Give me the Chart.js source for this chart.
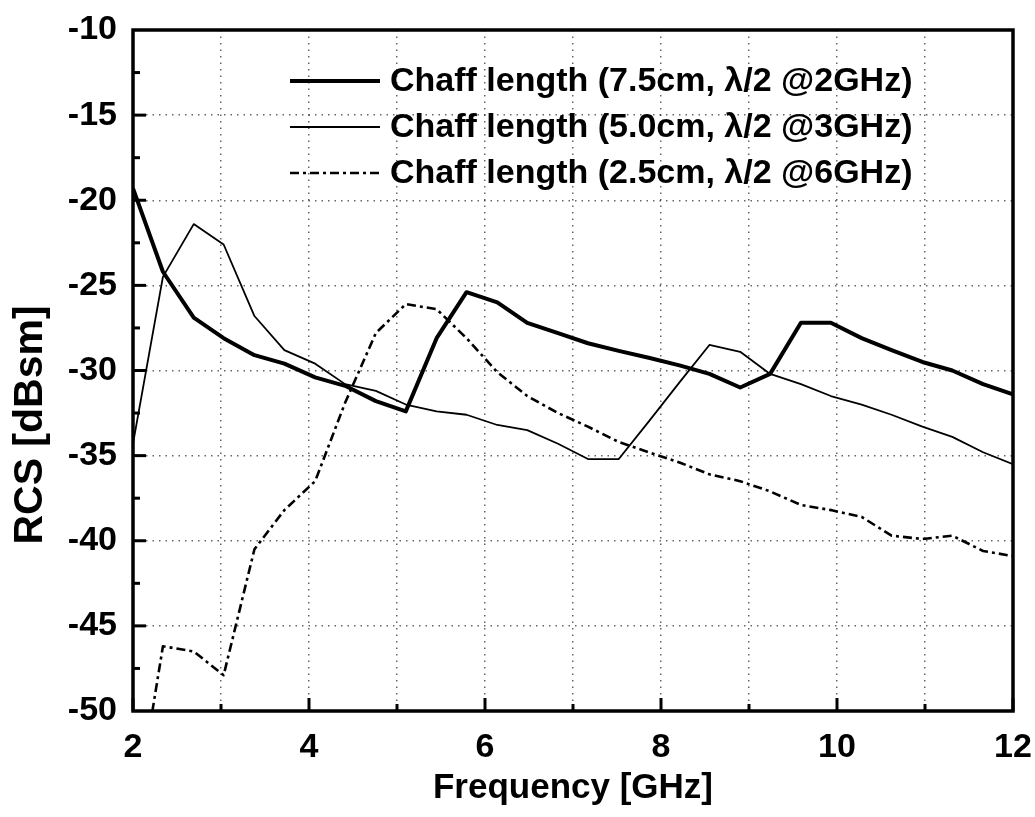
<!DOCTYPE html>
<html>
<head>
<meta charset="utf-8">
<script src="https://cdn.jsdelivr.net/npm/chart.js@4.4.1/dist/chart.umd.min.js"></script>
<style>
  body { margin: 0; background: #fff; }
  canvas { display: block; }
</style>
</head>
<body>
<canvas id="rcs-chart" width="1035" height="817"></canvas>
<script>
// frequency sweep shared by all three chaff lengths (GHz)
const freqGHz = [2.00, 2.34, 2.69, 3.03, 3.38, 3.72, 4.07, 4.41, 4.76, 5.10,
                 5.45, 5.79, 6.14, 6.48, 6.83, 7.17, 7.52, 7.86, 8.21, 8.55,
                 8.90, 9.24, 9.59, 9.93, 10.28, 10.62, 10.97, 11.31, 11.66, 12.00];

// RCS in dBsm
const rcs75 = [-19.3, -24.2, -26.9, -28.1, -29.1, -29.6, -30.4, -30.9, -31.8, -32.4,
               -28.1, -25.4, -26.0, -27.2, -27.8, -28.4, -28.85, -29.25, -29.7, -30.2,
               -31.0, -30.2, -27.2, -27.2, -28.1, -28.8, -29.5, -30.0, -30.8, -31.4];
const rcs50 = [-34.3, -24.5, -21.4, -22.6, -26.8, -28.8, -29.6, -30.8, -31.2, -32.0,
               -32.4, -32.6, -33.2, -33.5, -34.3, -35.2, -35.2, -33.0, -30.7, -28.5,
               -28.9, -30.2, -30.8, -31.5, -32.0, -32.6, -33.3, -33.9, -34.8, -35.5];
const rcs25 = [-57.0, -46.2, -46.5, -47.9, -40.5, -38.2, -36.5, -31.9, -27.8, -26.1,
               -26.4, -28.1, -30.1, -31.5, -32.5, -33.3, -34.2, -34.8, -35.4, -36.1,
               -36.5, -37.1, -37.9, -38.2, -38.6, -39.7, -39.9, -39.7, -40.6, -40.9];

const seriesLabels = [
  'Chaff length (7.5cm, \u03bb/2 @2GHz)',
  'Chaff length (5.0cm, \u03bb/2 @3GHz)',
  'Chaff length (2.5cm, \u03bb/2 @6GHz)'
];

const xMajor = [2, 4, 6, 8, 10, 12];
const xMinor = [3, 5, 7, 9, 11];
const yMajor = [-15, -20, -25, -30, -35, -40, -45];
const yMinor = [-12.5, -17.5, -22.5, -27.5, -32.5, -37.5, -42.5, -47.5];

const FONT = "'Liberation Sans', Arial, sans-serif";

function toPoints(ys) {
  return freqGHz.map((f, i) => ({ x: f, y: ys[i] }));
}

// frame, inward tick marks, legend box and the rotated y title
const decorations = {
  id: 'decorations',
  afterDatasetsDraw(chart) {
    const ctx = chart.ctx;
    const a = chart.chartArea;
    const xs = chart.scales.x, ys = chart.scales.y;
    ctx.save();
    ctx.strokeStyle = '#000';
    ctx.setLineDash([]);

    ctx.lineWidth = 3;
    yMajor.forEach(v => {
      const p = ys.getPixelForValue(v);
      ctx.beginPath(); ctx.moveTo(a.left, p); ctx.lineTo(a.left + 13, p); ctx.stroke();
    });
    yMinor.forEach(v => {
      const p = ys.getPixelForValue(v);
      ctx.beginPath(); ctx.moveTo(a.left, p); ctx.lineTo(a.left + 7, p); ctx.stroke();
    });
    xMajor.forEach(v => {
      const p = xs.getPixelForValue(v);
      ctx.beginPath(); ctx.moveTo(p, a.bottom); ctx.lineTo(p, a.bottom - 13); ctx.stroke();
    });
    xMinor.forEach(v => {
      const p = xs.getPixelForValue(v);
      ctx.beginPath(); ctx.moveTo(p, a.bottom); ctx.lineTo(p, a.bottom - 7); ctx.stroke();
    });

    ctx.lineWidth = 3.5;
    ctx.strokeRect(a.left, a.top, a.right - a.left, a.bottom - a.top);

    // legend
    ctx.font = 'bold 34px ' + FONT;
    ctx.fillStyle = '#000';
    ctx.textBaseline = 'middle';
    ctx.textAlign = 'left';
    const rows = [81, 127, 173];
    chart.data.datasets.forEach((ds, i) => {
      ctx.lineWidth = ds.borderWidth;
      ctx.setLineDash(ds.borderDash || []);
      ctx.beginPath(); ctx.moveTo(290, rows[i]); ctx.lineTo(380, rows[i]); ctx.stroke();
      ctx.setLineDash([]);
      ctx.fillText(ds.label, 390, rows[i] + 1);
    });

    // y axis title
    ctx.translate(31, 425);
    ctx.rotate(-Math.PI / 2);
    ctx.font = 'bold 41px ' + FONT;
    ctx.textAlign = 'center';
    ctx.fillText('RCS [dBsm]', 0, 0);
    ctx.restore();
  }
};

const gridStyle = { color: 'rgba(0,0,0,0.6)', lineWidth: 1.5, drawTicks: false };

new Chart(document.getElementById('rcs-chart').getContext('2d'), {
  type: 'line',
  data: {
    datasets: [
      { label: seriesLabels[0], data: toPoints(rcs75), borderColor: '#000', borderWidth: 4, borderDash: [] },
      { label: seriesLabels[1], data: toPoints(rcs50), borderColor: '#000', borderWidth: 1.8, borderDash: [] },
      { label: seriesLabels[2], data: toPoints(rcs25), borderColor: '#000', borderWidth: 2.6, borderDash: [9, 4, 3, 4] }
    ]
  },
  options: {
    responsive: false,
    animation: false,
    layout: { padding: { top: 30, right: 22, left: 0, bottom: 0 } },
    elements: {
      point: { radius: 0 },
      line: { tension: 0, borderJoinStyle: 'round', borderCapStyle: 'butt' }
    },
    datasets: { line: { clip: 0 } },
    plugins: { legend: { display: false }, tooltip: { enabled: false } },
    scales: {
      x: {
        type: 'linear', min: 2, max: 12,
        grid: gridStyle,
        border: { display: false, dash: [1.5, 5] },
        ticks: {
          stepSize: 1, padding: 16, color: '#000',
          font: { family: FONT, size: 34, weight: 'bold' },
          maxRotation: 0, autoSkip: false,
          callback: v => (v % 2 === 0 ? String(v) : '')
        },
        title: {
          display: true, text: 'Frequency [GHz]', color: '#000',
          font: { family: FONT, size: 35, weight: 'bold' },
          padding: { top: 0, bottom: 8 }
        },
        afterFit: s => { s.height = 106; s.paddingLeft = 0; s.paddingRight = 0; }
      },
      y: {
        min: -50, max: -10,
        grid: gridStyle,
        border: { display: false, dash: [1.5, 5] },
        ticks: {
          stepSize: 5, padding: 16, color: '#000',
          font: { family: FONT, size: 34, weight: 'bold' }
        },
        afterFit: s => { s.width = 133; s.paddingTop = 0; s.paddingBottom = 0; }
      }
    }
  },
  plugins: [decorations]
});
</script>
</body>
</html>
